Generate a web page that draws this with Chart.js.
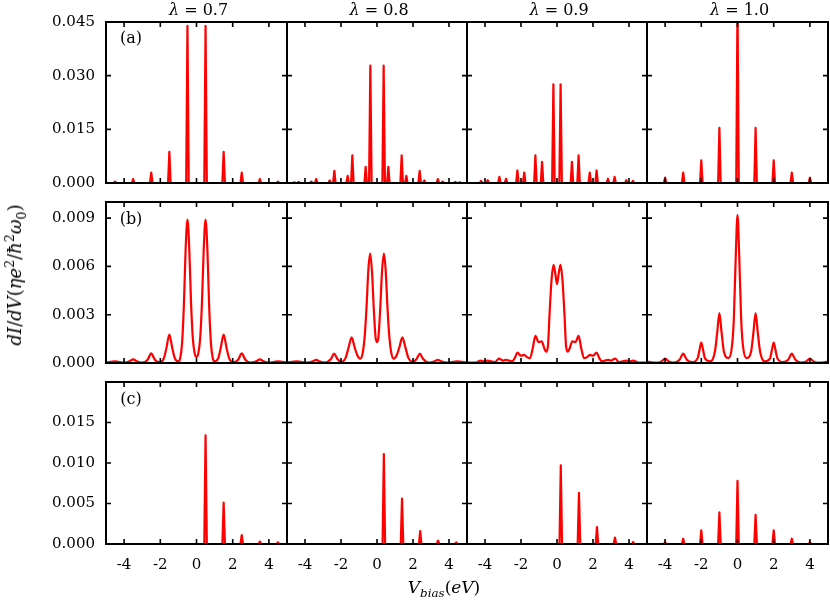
<!DOCTYPE html>
<html>
<head>
<meta charset="utf-8">
<script src="https://cdn.jsdelivr.net/npm/chart.js@4.4.1/dist/chart.umd.min.js"></script>
<style>
    body { margin: 0; background: #fff; }
    #fig { position: relative; width: 830px; height: 600px; overflow: hidden; background: #fff; }
    #fig canvas { position: absolute; left: 0; top: 0; }
    .txt { position: absolute; font-family: 'DejaVu Serif', serif; color: #000; white-space: nowrap;
           line-height: 1; transform: translate(-50%, -50%); }
    .math { font-style: italic; }
    sup, sub { font-size: 70%; line-height: 0; }
</style>
</head>
<body>
<div id="fig"></div>
<script>
/**
 * Ticks and ranges of the three rows.
 */
var X_TICKS = [-4, -2, 0, 2, 4];
var Y_TICKS_A = [0, 0.015, 0.030, 0.045];
var Y_TICKS_B = [0, 0.003, 0.006, 0.009];
var Y_TICKS_C = [0, 0.005, 0.010, 0.015];
var Y_MAX = [0.045, 0.010, 0.020];
var LAMBDAS = ['0.7', '0.8', '0.9', '1.0'];
var ROW_LABELS = ['(a)', '(b)', '(c)'];

// row (a): sharp peaks, position and height
var peaksA1 = [-4.5, -3.5, -2.5, -1.5, -0.5, 0.5, 1.5, 2.5, 3.5, 4.5];
var heightsA1 = [0.0004, 0.0011, 0.0029, 0.0087, 0.0439, 0.0439, 0.0087, 0.0029, 0.0011, 0.0004];
var peaksA2 = [-4.6, -4.35, -3.65, -3.38, -2.63, -2.37, -1.63, -1.37, -0.63, -0.37,
               0.37, 0.63, 1.37, 1.63, 2.37, 2.63, 3.38, 3.65, 4.35, 4.6];
var heightsA2 = [0.0002, 0.0003, 0.0004, 0.0011, 0.0007, 0.0034, 0.0020, 0.0077, 0.0045, 0.0328,
                 0.0328, 0.0045, 0.0077, 0.0020, 0.0034, 0.0007, 0.0011, 0.0004, 0.0003, 0.0002];
var peaksA3 = [-4.22, -3.85, -3.2, -2.83, -2.2, -1.82, -1.2, -0.83, -0.2,
               0.2, 0.83, 1.2, 1.82, 2.2, 2.83, 3.2, 3.85, 4.22];
var heightsA3 = [0.0006, 0.0008, 0.0017, 0.0012, 0.0035, 0.0029, 0.0077, 0.0059, 0.0276,
                 0.0276, 0.0059, 0.0077, 0.0029, 0.0035, 0.0012, 0.0017, 0.0008, 0.0006];
var peaksA4 = [-4, -3, -2, -1, 0, 1, 2, 3, 4];
var heightsA4 = [0.0015, 0.0029, 0.0063, 0.0154, 0.05, 0.0154, 0.0063, 0.0029, 0.0015];

// row (b): broadened curves, [V, dI/dV]
var curveB1 = [[-5, 0.00002], [-4.5, 0.0001], [-4, 0.00002], [-3.7, 0.0001], [-3.5, 0.00023], [-3.3, 0.0001],
    [-3, 0.00002], [-2.7, 0.0002], [-2.5, 0.0006], [-2.3, 0.0002], [-2, 0.00004], [-1.8, 0.0003],
    [-1.65, 0.001], [-1.5, 0.00177], [-1.35, 0.001], [-1.2, 0.0003], [-1, 0.0001], [-0.9, 0.0003],
    [-0.8, 0.0012], [-0.7, 0.0035], [-0.6, 0.0071], [-0.5, 0.0089], [-0.4, 0.0071], [-0.3, 0.0037],
    [-0.2, 0.0015], [-0.1, 0.0006], [0, 0.00037], [0.1, 0.0006], [0.2, 0.0015], [0.3, 0.0037],
    [0.4, 0.0071], [0.5, 0.0089], [0.6, 0.0071], [0.7, 0.0035], [0.8, 0.0012], [0.9, 0.0003],
    [1, 0.0001], [1.2, 0.0003], [1.35, 0.001], [1.5, 0.00177], [1.65, 0.001], [1.8, 0.0003],
    [2, 0.00004], [2.3, 0.0002], [2.5, 0.0006], [2.7, 0.0002], [3, 0.00002], [3.3, 0.0001],
    [3.5, 0.00023], [3.7, 0.0001], [4, 0.00002], [4.5, 0.0001], [5, 0.00002]];
var curveB2 = [[-5, 0.00003], [-4.45, 0.0001], [-3.9, 0.00002], [-3.56, 0.0001], [-3.38, 0.0002], [-3.2, 0.0001],
    [-2.9, 0.00002], [-2.56, 0.00025], [-2.38, 0.00058], [-2.2, 0.00025], [-1.98, 0.00006], [-1.75, 0.0003],
    [-1.57, 0.001], [-1.41, 0.0016], [-1.25, 0.001], [-1.1, 0.0005], [-0.93, 0.00027], [-0.8, 0.0006],
    [-0.68, 0.0017], [-0.58, 0.0035], [-0.48, 0.0058], [-0.38, 0.0068], [-0.28, 0.0057], [-0.18, 0.0034],
    [-0.08, 0.0016], [0, 0.0013], [0.08, 0.0016], [0.18, 0.0034], [0.28, 0.0057], [0.38, 0.0068],
    [0.48, 0.0058], [0.58, 0.0035], [0.68, 0.0017], [0.8, 0.0006], [0.93, 0.00027], [1.1, 0.0005],
    [1.25, 0.001], [1.41, 0.0016], [1.57, 0.001], [1.75, 0.0003], [1.98, 0.00006], [2.2, 0.00025],
    [2.38, 0.00058], [2.56, 0.00025], [2.9, 0.00002], [3.2, 0.0001], [3.38, 0.0002], [3.56, 0.0001],
    [3.9, 0.00002], [4.45, 0.0001], [5, 0.00003]];
var curveB3 = [[-5, 0.00002], [-4.5, 0.00003], [-4.24, 0.00015], [-4.05, 0.0001], [-3.87, 0.00015], [-3.45, 0.00005],
    [-3.22, 0.00027], [-3, 0.00015], [-2.85, 0.0002], [-2.5, 0.0001], [-2.35, 0.0003], [-2.2, 0.00064],
    [-2, 0.00045], [-1.83, 0.0005], [-1.65, 0.00035], [-1.5, 0.0003], [-1.35, 0.0009], [-1.2, 0.00168],
    [-1.02, 0.0013], [-0.85, 0.00135], [-0.7, 0.0009], [-0.6, 0.0007], [-0.5, 0.0011], [-0.42, 0.0029],
    [-0.3, 0.0052], [-0.19, 0.0061], [-0.1, 0.0056], [0, 0.0049], [0.1, 0.0056], [0.19, 0.0061],
    [0.3, 0.0052], [0.42, 0.0029], [0.5, 0.0011], [0.6, 0.0007], [0.7, 0.0009], [0.85, 0.00135],
    [1.02, 0.0013], [1.2, 0.00168], [1.35, 0.0009], [1.5, 0.0003], [1.65, 0.00035], [1.83, 0.0005],
    [2, 0.00045], [2.2, 0.00064], [2.35, 0.0003], [2.5, 0.0001], [2.85, 0.0002], [3, 0.00015],
    [3.22, 0.00027], [3.45, 0.00005], [3.87, 0.00015], [4.05, 0.0001], [4.24, 0.00015], [4.5, 0.00003],
    [5, 0.00002]];
var curveB4 = [[-5, 0.00008], [-4.5, 0.00002], [-4.2, 0.0001], [-4, 0.00027], [-3.8, 0.0001], [-3.5, 0.00003],
    [-3.2, 0.0002], [-3, 0.00058], [-2.8, 0.0002], [-2.5, 0.00005], [-2.2, 0.0003], [-2.1, 0.0008],
    [-2, 0.00127], [-1.9, 0.0008], [-1.8, 0.0003], [-1.5, 0.0001], [-1.25, 0.0007], [-1.12, 0.0019],
    [-1, 0.0031], [-0.88, 0.0019], [-0.75, 0.0007], [-0.5, 0.0003], [-0.3, 0.0011], [-0.2, 0.0028],
    [-0.1, 0.0065], [0, 0.0092], [0.1, 0.0065], [0.2, 0.0028], [0.3, 0.0011], [0.5, 0.0003],
    [0.75, 0.0007], [0.88, 0.0019], [1, 0.0031], [1.12, 0.0019], [1.25, 0.0007], [1.5, 0.0001],
    [1.8, 0.0003], [1.9, 0.0008], [2, 0.00127], [2.1, 0.0008], [2.2, 0.0003], [2.5, 0.00005],
    [2.8, 0.0002], [3, 0.00058], [3.2, 0.0002], [3.5, 0.00003], [3.8, 0.0001], [4, 0.00027],
    [4.2, 0.0001], [4.5, 0.00002], [5, 0.00008]];

// row (c): sharp peaks
var peaksC1 = [0.5, 1.5, 2.5, 3.5, 4.5];
var heightsC1 = [0.0134, 0.0051, 0.0011, 0.0003, 0.0002];
var peaksC2 = [0.38, 1.39, 2.4, 3.39, 4.4];
var heightsC2 = [0.0111, 0.0056, 0.0016, 0.0004, 0.0002];
var peaksC3 = [0.21, 1.22, 2.22, 3.22, 4.23];
var heightsC3 = [0.0097, 0.0063, 0.0021, 0.0008, 0.00025];
var peaksC4 = [-4, -3, -2, -1, 0, 1, 2, 3, 4];
var heightsC4 = [0.00024, 0.00065, 0.0017, 0.0039, 0.0078, 0.0036, 0.0017, 0.00065, 0.00024];

// layout of the panel boxes, in page pixels
var COL_LEFT = [106, 287, 467, 647];
var COL_RIGHT = [287, 467, 647, 828];
var ROW_TOP = [22, 202, 382];
var ROW_BOTTOM = [183, 363, 544];
var SPIKE_HALF = 0.07;
var TICK_LEN = 5;
var TICK_FONT = { family: "'DejaVu Serif', serif", size: 15 };

/**
 * Line through zero with a narrow spike at every peak.
 */
function spikes(centres, heights) {
    var pts = [{ x: -5, y: 0 }];
    for (var i = 0; i < centres.length; i++) {
        pts.push({ x: centres[i] - SPIKE_HALF, y: 0 });
        pts.push({ x: centres[i], y: heights[i] });
        pts.push({ x: centres[i] + SPIKE_HALF, y: 0 });
    }
    pts.push({ x: 5, y: 0 });
    return pts;
}

function curve(pairs) {
    return pairs.map(function (p) { return { x: p[0], y: p[1] }; });
}

/**
 * Black frame with inward ticks on all four sides.
 */
var framePlugin = {
    id: 'frame',
    afterDatasetsDraw: function (chart) {
        var ctx = chart.ctx, a = chart.chartArea, xs = chart.scales.x, ys = chart.scales.y;
        ctx.save();
        ctx.strokeStyle = '#000';
        ctx.lineWidth = 1.6;
        ctx.beginPath();
        xs.ticks.forEach(function (t) {
            var px = xs.getPixelForValue(t.value);
            ctx.moveTo(px, a.bottom); ctx.lineTo(px, a.bottom - TICK_LEN);
            ctx.moveTo(px, a.top); ctx.lineTo(px, a.top + TICK_LEN);
        });
        ys.ticks.forEach(function (t) {
            var py = ys.getPixelForValue(t.value);
            ctx.moveTo(a.left, py); ctx.lineTo(a.left + TICK_LEN, py);
            ctx.moveTo(a.right, py); ctx.lineTo(a.right - TICK_LEN, py);
        });
        ctx.stroke();
        ctx.lineWidth = 2;
        ctx.strokeRect(a.left, a.top, a.right - a.left, a.bottom - a.top);
        ctx.restore();
    }
};

var PANEL_DATA = [
    [spikes(peaksA1, heightsA1), spikes(peaksA2, heightsA2), spikes(peaksA3, heightsA3), spikes(peaksA4, heightsA4)],
    [curve(curveB1), curve(curveB2), curve(curveB3), curve(curveB4)],
    [spikes(peaksC1, heightsC1), spikes(peaksC2, heightsC2), spikes(peaksC3, heightsC3), spikes(peaksC4, heightsC4)]
];
var ROW_TICKS = [Y_TICKS_A, Y_TICKS_B, Y_TICKS_C];

function createPanel(row, col) {
    var fig = document.getElementById('fig');
    var canvas = document.createElement('canvas');
    canvas.width = 830;
    canvas.height = 600;
    fig.appendChild(canvas);
    var smooth = row === 1;
    // the label column / label strip is given to the axis box, so the labels are not clipped
    var yWidth = col === 0 ? COL_LEFT[0] : 0;
    var xHeight = row === 2 ? 600 - ROW_BOTTOM[2] : 0;

    new Chart(canvas.getContext('2d'), {
        type: 'line',
        data: {
            datasets: [{
                data: PANEL_DATA[row][col],
                borderColor: '#ff0000',
                borderWidth: 2.2,
                borderJoinStyle: 'round',
                pointRadius: 0,
                fill: false,
                tension: smooth ? 0.4 : 0,
                cubicInterpolationMode: smooth ? 'monotone' : 'default'
            }]
        },
        options: {
            responsive: false,
            animation: false,
            devicePixelRatio: 1,
            events: [],
            layout: {
                padding: {
                    left: COL_LEFT[col] - yWidth,
                    right: 830 - COL_RIGHT[col],
                    top: ROW_TOP[row],
                    bottom: 600 - ROW_BOTTOM[row] - xHeight
                }
            },
            plugins: { legend: { display: false }, tooltip: { enabled: false }, title: { display: false } },
            scales: {
                x: {
                    type: 'linear',
                    min: -5,
                    max: 5,
                    grid: { display: false, drawTicks: false },
                    border: { display: false },
                    afterBuildTicks: function (axis) {
                        axis.ticks = X_TICKS.map(function (v) { return { value: v }; });
                    },
                    afterFit: function (axis) { axis.height = xHeight; },
                    ticks: {
                        display: row === 2,
                        color: '#000',
                        font: TICK_FONT,
                        padding: 12,
                        maxRotation: 0,
                        autoSkip: false,
                        callback: function (v) { return String(v); }
                    }
                },
                y: {
                    type: 'linear',
                    min: 0,
                    max: Y_MAX[row],
                    grid: { display: false, drawTicks: false },
                    border: { display: false },
                    afterBuildTicks: function (axis) {
                        axis.ticks = ROW_TICKS[row].map(function (v) { return { value: v }; });
                    },
                    afterFit: function (axis) { axis.width = yWidth; },
                    ticks: {
                        display: col === 0,
                        color: '#000',
                        font: TICK_FONT,
                        padding: 11,
                        callback: function (v) { return v.toFixed(3); }
                    }
                }
            }
        },
        plugins: [framePlugin]
    });
}

function addText(html, x, y, size, extra) {
    var el = document.createElement('div');
    el.className = 'txt';
    el.innerHTML = html;
    el.style.left = x + 'px';
    el.style.top = y + 'px';
    el.style.fontSize = size + 'px';
    if (extra) el.style.transform = 'translate(-50%, -50%) ' + extra;
    document.getElementById('fig').appendChild(el);
}

for (var r = 0; r < 3; r++) {
    for (var c = 0; c < 4; c++) {
        createPanel(r, c);
    }
}

for (var c = 0; c < 4; c++) {
    addText('<span class="math">λ</span> = ' + LAMBDAS[c], (COL_LEFT[c] + COL_RIGHT[c]) / 2 + 2, 10, 16);
}
var LABEL_Y = [38, 219, 399];
for (var r = 0; r < 3; r++) {
    addText(ROW_LABELS[r], 131, LABEL_Y[r], 16);
}
addText('<span class="math">dI</span>/<span class="math">dV</span>(<span class="math">ηe</span><sup>2</sup>/' +
        '<span class="math">ħ</span><sup>2</sup><span class="math">ω</span><sub>0</sub>)', 15, 275, 18, 'rotate(-90deg)');
addText('<span class="math">V</span><sub class="math">bias</sub>(<span class="math">eV</span>)', 444, 587, 17);
</script>
</body>
</html>
